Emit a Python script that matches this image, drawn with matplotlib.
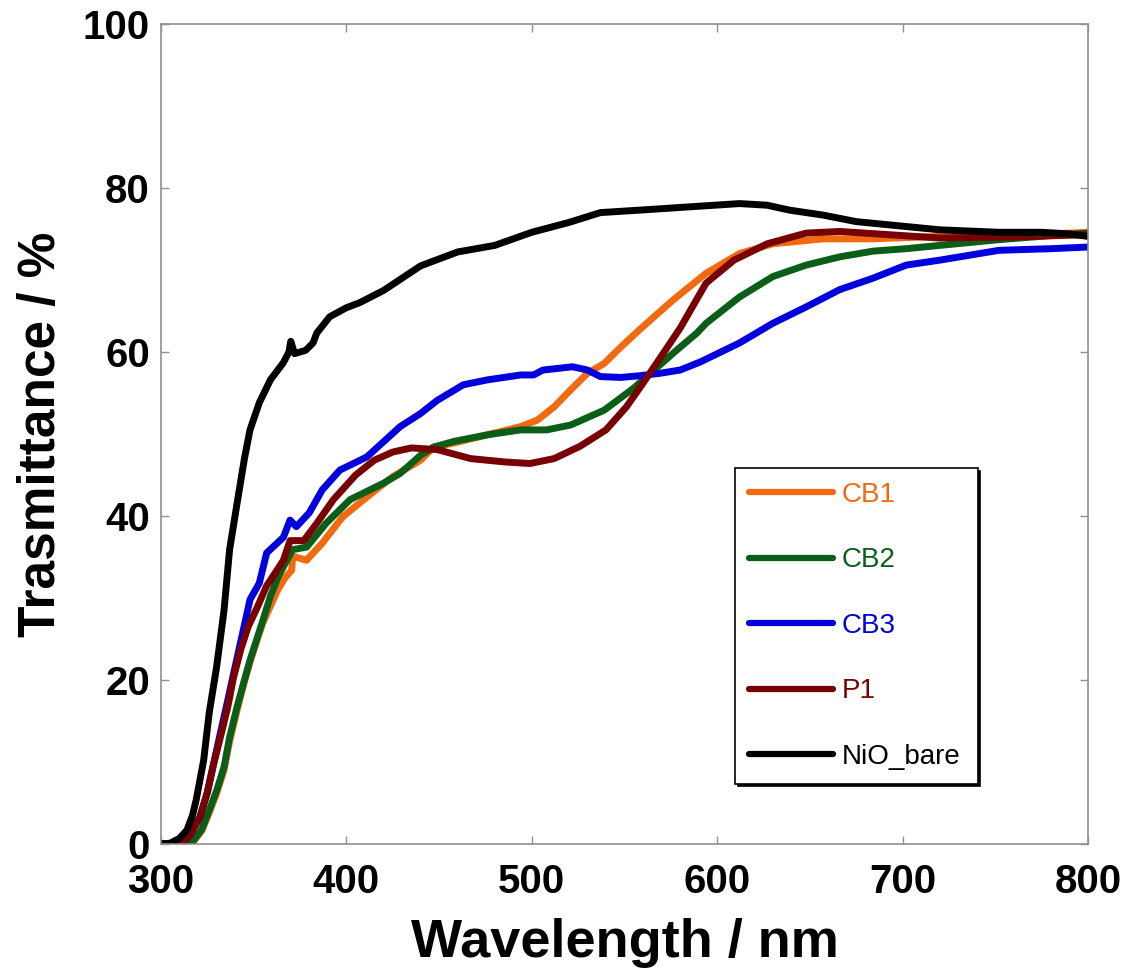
import matplotlib
matplotlib.use("Agg")
import matplotlib.pyplot as plt

plt.rcParams["font.family"] = ["Liberation Sans", "DejaVu Sans"]

# values (wavelength nm, transmittance %)
nio_wl = [300, 305, 310, 314, 317, 319, 323, 326, 330, 334, 337, 341, 345, 348, 353, 359, 366,
          369, 370, 372, 375, 378, 382, 384, 391, 400, 407, 420, 440, 460, 480, 500, 520, 537,
          558, 585, 612, 627, 639, 657, 675, 693, 711, 720, 752, 775, 790, 800]
nio_t = [0, 0.1, 0.7, 1.7, 3.5, 5.4, 10.2, 16, 21.6, 28.5, 35.9, 41.5, 47, 50.5, 53.8, 56.6, 58.7,
         60, 61.3, 59.8, 60, 60.2, 61.1, 62.3, 64.3, 65.4, 66, 67.5, 70.5, 72.2, 73, 74.6, 75.8, 77,
         77.3, 77.7, 78.1, 77.9, 77.3, 76.7, 75.9, 75.5, 75.1, 74.9, 74.6, 74.6, 74.4, 74.1]

cb1_wl = [300, 312, 317, 322, 326, 330, 334, 337, 341, 345, 348, 352, 355, 359, 363, 367, 370.5, 371,
          378.5, 387, 398, 411, 425, 440, 447, 458, 476, 494, 503, 512, 521, 530, 539, 548, 558,
          576, 594, 612, 630, 657, 684, 720, 752, 780, 800]
cb1_t = [0, 0, 0.2, 1.6, 3.8, 6.2, 9, 12.5, 16.3, 19.8, 22.2, 25, 27, 29, 31, 32.5, 33.4, 35.1,
         34.6, 36.7, 39.9, 42.3, 44.8, 46.8, 48.4, 48.9, 49.9, 50.9, 51.7, 53.3, 55.4, 57.4, 58.6, 60.6, 62.7,
         66.3, 69.6, 72, 73.2, 73.8, 73.8, 74.1, 74.2, 74.4, 74.6]

cb2_wl = [300, 312, 317, 322, 326, 330, 334, 337, 341, 345, 348, 352, 355, 359, 363, 366, 371,
          378.5, 389, 402, 420, 429, 440, 447, 458, 476, 494, 508, 521, 539, 555, 566, 578, 589,
          594, 612, 630, 648, 666, 684, 702, 720, 752, 780, 800]
cb2_t = [0, 0, 0.2, 1.8, 4.1, 6.5, 9.4, 13, 16.7, 20, 22.4, 25.2, 27.3, 30.2, 32.5, 33.8, 35.9,
         36.2, 39.1, 42, 44, 45.2, 47.4, 48.4, 49.1, 49.9, 50.5, 50.5, 51.1, 52.9, 55.6, 57.8, 60.2, 62.3,
         63.5, 66.7, 69.2, 70.6, 71.6, 72.3, 72.6, 73, 73.7, 74.2, 74.5]

cb3_wl = [300, 308, 312, 316, 321, 325, 328, 332, 336, 338, 344, 348, 353, 357, 366, 369.6, 373,
          380, 387, 396.5, 411, 429, 440, 449, 463, 476, 494, 501, 506, 522, 530, 537, 548, 558,
          569, 580, 591, 612, 630, 648, 666, 684, 702, 720, 752, 780, 800]
cb3_t = [0, 0, 0.2, 1.2, 3.3, 6.3, 9.4, 13.5, 17.5, 19.6, 25.7, 29.8, 31.8, 35.5, 37.4, 39.5, 38.7,
         40.4, 43.2, 45.6, 47.2, 50.9, 52.5, 54.1, 56, 56.6, 57.2, 57.2, 57.8, 58.2, 57.8, 57, 56.9, 57.1,
         57.4, 57.8, 58.8, 61.1, 63.5, 65.5, 67.6, 69, 70.6, 71.2, 72.4, 72.6, 72.8]

p1_wl = [300, 308, 312, 316, 321, 325, 328, 332, 336, 339, 343, 347, 352, 357, 362, 366, 369.6,
         377, 384, 393, 405, 415, 425, 435, 449, 467, 485, 499, 512, 526, 540, 551, 560, 569,
         580, 594, 609, 627, 648, 666, 693, 720, 752, 800]
p1_t = [0, 0, 0.2, 1.2, 3.3, 6.3, 9.4, 13, 16.7, 20.2, 23.7, 26.5, 28.9, 31.5, 33.2, 34.6, 37,
        37, 39.1, 42, 45, 46.8, 47.8, 48.3, 48.1, 47, 46.6, 46.4, 47, 48.5, 50.5, 53.3, 56.2, 59.2,
        62.9, 68.4, 71.2, 73.2, 74.5, 74.7, 74.3, 73.9, 74, 74.3]

names = ["CB1", "CB2", "CB3", "P1", "NiO_bare"]
colors = ["#F26A10", "#0B5E17", "#0000DD", "#780000", "#000000"]
series = [(cb1_wl, cb1_t), (cb2_wl, cb2_t), (cb3_wl, cb3_t), (p1_wl, p1_t), (nio_wl, nio_t)]

fig = plt.figure(figsize=(11.27, 9.74), dpi=100)
ax = fig.add_axes([161 / 1127, 1 - 844 / 974, 927 / 1127, 820 / 974])

for (wl, t), name, col in zip(series, names, colors):
    ax.plot(wl, t, color=col, lw=5, label=name, solid_capstyle="round", solid_joinstyle="round")

ax.set_xlim(300, 800)
ax.set_ylim(0, 100)
ax.set_xticks([300, 400, 500, 600, 700, 800])
ax.set_yticks([0, 20, 40, 60, 80, 100])
for sp in ax.spines.values():
    sp.set_color("#909090")
    sp.set_linewidth(1.2)
ax.tick_params(direction="in", length=6, width=1, color="#909090", top=True, right=True,
               labelsize=29)
ax.tick_params(axis="x", pad=14)
ax.tick_params(axis="y", pad=8)
for lab in ax.get_xticklabels() + ax.get_yticklabels():
    lab.set_fontweight("bold")

ax.set_xlabel("Wavelength / nm", fontsize=39, fontweight="bold", labelpad=12)
ax.set_ylabel("Trasmittance / %", fontsize=37, fontweight="bold", labelpad=12)

leg = ax.legend(loc="upper left", bbox_to_anchor=(0.619, 0.4585, 0.262, 0.0), mode="expand",
                frameon=True, fancybox=False, shadow={"color": "black", "alpha": 1},
                fontsize=20, handlelength=3.05, labelspacing=1.42, borderpad=0.5,
                handletextpad=0.3, borderaxespad=0)
leg.get_frame().set_edgecolor("black")
leg.get_frame().set_linewidth(1.2)
for txt, col in zip(leg.get_texts(), colors):
    txt.set_color(col)
for line in leg.get_lines():
    line.set_linewidth(4.5)

fig.savefig("out.png", dpi=100)
